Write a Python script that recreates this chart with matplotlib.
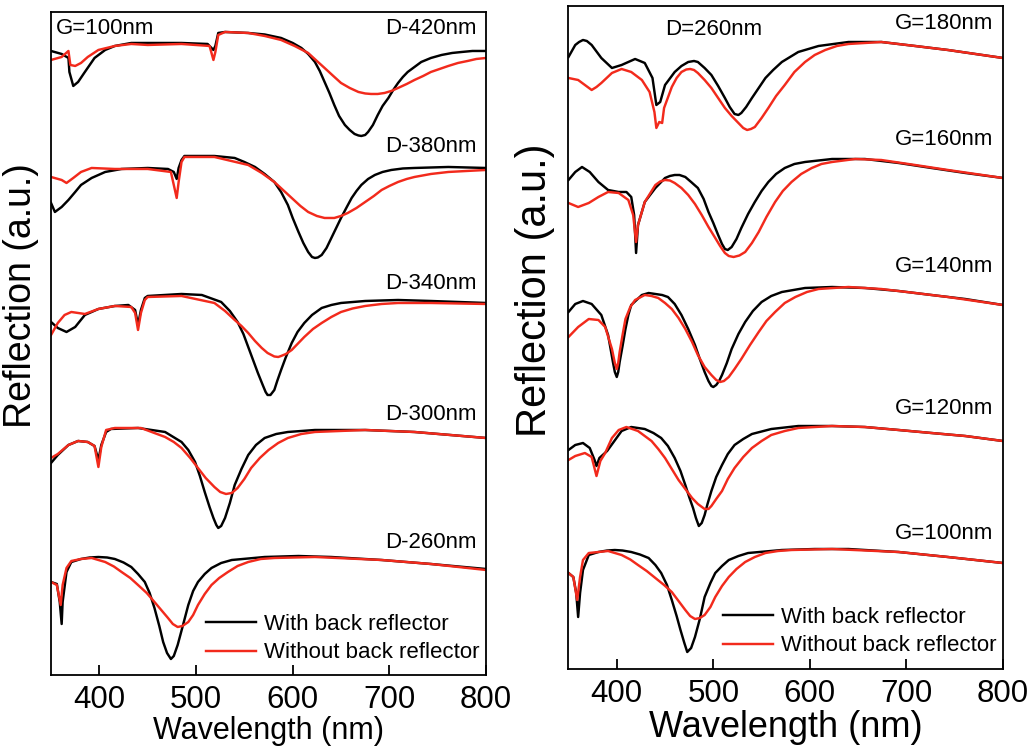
import matplotlib
matplotlib.use('Agg')
import matplotlib.pyplot as plt

plt.rcParams['font.family'] = ['Liberation Sans', 'DejaVu Sans']

BLACK = '#000000'
RED = '#f22a1c'

# (wavelength nm, reflection a.u. incl. stacking offset)
# ---- left panel: G=100nm, diameter series ----
d420_with = [(350, 624), (361, 621), (368, 617), (369, 603), (373, 589), (378, 593), (385, 603), (395, 617),
             (406, 625), (416, 629), (433, 632), (450, 632), (485, 632), (512, 631), (518, 625), (520, 629),
             (523, 642), (530, 643), (554, 642), (571, 640.5), (588, 637), (600, 632), (609, 627), (616, 621),
             (623, 613), (628, 604), (633, 593), (638, 582), (643, 570), (648, 559), (654, 550), (659, 545),
             (664, 541), (668, 539.5), (671, 539), (675, 540), (678, 543), (683, 550), (688, 560), (693, 569),
             (699, 577), (704, 585), (709, 592), (714, 598), (719, 603), (726, 608), (733, 613), (743, 617),
             (754, 620), (765, 622), (775, 623), (786, 624), (800, 624)]
d420_without = [(350, 615), (361, 618), (368, 624), (370, 610), (375, 609), (381, 612), (388, 618), (399, 625),
                (416, 629), (433, 631), (450, 630), (485, 631), (514, 629), (518, 615), (520, 623), (523, 640),
                (530, 643), (554, 642), (571, 639), (588, 635), (602, 629), (616, 622), (625, 614), (633, 607),
                (642, 599), (650, 592), (659, 587), (668, 583), (675, 581.5), (681, 581), (688, 581), (695, 582),
                (702, 584), (709, 587), (718, 591), (726, 595), (735, 599), (743, 603), (752, 606), (761, 609),
                (771, 612), (781, 614), (790, 616), (800, 617)]

d380_with = [(350, 472), (354, 463), (361, 468), (368, 475), (375, 483), (381, 490), (392, 497), (406, 503),
             (423, 506), (450, 507), (471, 506), (477, 503), (480, 496), (482, 507), (485, 515), (488, 519),
             (519, 519), (540, 517), (550, 513), (561, 508), (571, 501), (581, 493), (588, 483), (595, 470),
             (600, 457), (606, 443), (611, 432), (616, 423), (620, 418), (623, 417), (626, 417.5), (630, 420),
             (635, 427), (640, 437), (645, 447), (650, 457), (656, 468), (661, 477), (666, 484), (671, 490),
             (678, 496), (685, 500), (693, 503), (702, 505), (714, 506.5), (726, 507), (761, 508), (800, 507)]
d380_without = [(350, 498), (361, 495), (366, 492), (373, 497), (381, 503), (392, 507), (416, 506), (450, 506),
                (474, 503), (480, 477), (482, 493), (485, 513), (488, 518), (519, 518), (554, 510), (568, 502),
                (581, 493), (590, 485), (599, 477), (608, 469), (616, 463), (625, 459), (633, 457), (643, 457),
                (650, 459), (657, 462), (666, 467), (675, 473), (684, 479), (692, 485), (700, 489), (709, 493),
                (718, 496), (726, 498), (743, 501), (761, 503), (780, 504), (800, 505)]

d340_with = [(350, 353), (357, 347), (366, 343), (375, 348), (385, 360), (399, 366), (416, 369), (430, 370),
             (437, 365), (440, 350), (443, 365), (447, 377), (450, 379), (485, 381), (506, 380), (526, 373),
             (535, 364), (543, 353), (549, 341), (554, 328), (559, 315), (564, 302), (569, 290), (572, 283),
             (574, 280), (577, 280), (581, 285), (584, 294), (588, 305), (593, 318), (599, 332), (605, 343),
             (612, 352), (620, 360), (630, 367), (640, 370), (650, 372), (675, 374), (709, 375), (743, 374),
             (800, 372)]
d340_without = [(350, 340), (357, 352), (364, 360), (371, 363), (378, 362), (385, 361), (399, 366), (416, 369),
                (433, 368), (437, 362), (440, 345), (443, 362), (447, 375), (450, 378), (485, 379), (519, 372),
                (530, 364), (540, 355), (547, 349), (554, 342), (561, 334), (568, 327), (574, 322), (581, 318.5),
                (585, 318), (588, 319), (593, 321), (599, 325), (605, 331), (612, 338), (621, 346), (630, 352),
                (640, 358), (650, 363), (662, 366.5), (675, 369), (692, 371), (709, 372), (743, 372), (800, 371)]

d300_with = [(350, 212), (357, 220), (368, 230), (378, 234), (388, 233), (395, 229), (399, 215), (402, 230),
             (407, 243), (412, 246), (440, 247), (468, 243), (485, 233), (492, 225), (499, 213), (504, 199),
             (509, 183), (514, 168), (518, 157), (521, 150), (523, 147), (526, 149), (530, 157), (535, 172),
             (540, 190), (547, 206), (554, 220), (562, 230), (571, 237), (583, 241), (595, 243), (623, 245),
             (675, 245), (726, 243), (800, 237)]
d300_without = [(350, 217), (357, 221), (368, 230), (378, 234), (388, 233), (395, 229), (399, 208), (402, 228),
                (407, 245), (416, 247), (443, 247), (468, 238), (477, 233), (485, 227), (494, 217), (502, 207),
                (510, 197), (519, 188), (525, 183), (531, 181), (537, 182), (543, 187), (550, 196), (557, 207),
                (566, 217), (575, 225), (585, 232), (595, 237), (609, 241), (623, 243), (675, 245), (726, 243),
                (800, 237)]

d260_with = [(350, 93), (356, 91), (359, 73), (361, 51), (362, 73), (366, 103), (371, 113), (381, 116),
             (390, 117.5), (399, 118), (408, 117.5), (416, 116), (425, 112.5), (433, 108), (440, 101), (447, 93),
             (452, 82), (457, 67), (462, 49), (466, 33), (470, 22), (474, 16), (477, 19), (481, 30), (486, 48),
             (492, 70), (497, 84), (502, 93), (509, 101), (516, 107), (526, 112), (537, 115), (571, 118),
             (606, 119), (640, 118), (692, 115), (743, 111), (800, 106)]
d260_without = [(350, 93), (356, 90), (360, 70), (362, 90), (366, 107), (371, 114), (381, 116), (392, 117),
                (406, 113), (415, 108.5), (423, 103), (432, 97), (440, 90), (449, 82), (457, 73), (464, 65),
                (471, 57), (476, 51), (481, 48), (486, 49), (492, 53), (497, 60), (502, 70), (509, 81), (516, 90),
                (524, 97), (533, 103), (543, 109), (554, 113), (567, 116), (581, 117), (623, 118), (692, 115),
                (743, 111), (800, 105)]

# ---- right panel: D=260nm, gap series ----
g180_with = [(350, 612), (357, 624), (361, 627), (365, 629), (369, 628), (374, 624), (384, 611), (395, 601),
             (405, 604), (419, 610), (429, 606), (437, 591), (441, 564), (445, 567), (450, 584), (460, 597),
             (467, 603), (474, 607), (480, 608), (484, 607), (491, 601), (498, 594), (505, 583), (512, 571),
             (517, 562), (522, 555), (526, 554), (529, 556), (534, 562), (540, 571), (547, 581), (554, 591),
             (562, 599), (571, 607), (588, 617), (609, 623), (640, 627), (674, 627), (709, 623), (743, 619),
             (800, 611)]
g180_without = [(350, 591), (360, 589), (367, 584), (374, 579), (379, 582), (384, 586), (395, 596), (405, 600),
                (415, 597), (426, 589), (434, 577), (439, 557), (441, 541), (444, 547), (447, 546), (449, 561),
                (457, 582), (462, 591), (467, 597), (472, 599.5), (476, 600), (480, 599), (484, 596), (491, 589),
                (498, 581), (505, 571), (512, 561), (519, 553), (526, 546), (531, 541), (535, 539), (539, 540),
                (543, 542), (550, 551), (557, 561), (565, 573), (574, 584), (584, 597), (595, 607), (605, 614),
                (616, 619), (628, 623), (640, 625), (674, 627), (709, 623), (743, 619), (800, 611)]

g160_with = [(350, 489), (357, 497), (364, 502), (372, 497), (381, 487), (391, 479), (402, 477), (410, 477),
             (415, 472), (418, 454), (420, 416), (422, 444), (429, 467), (440, 481), (450, 491), (455, 493),
             (460, 494), (465, 494), (471, 492), (477, 487), (484, 481), (490, 470), (495, 457), (500, 446),
             (505, 434), (509, 425), (512, 420), (515, 419), (519, 422), (524, 430), (529, 441), (536, 455),
             (543, 467), (550, 478), (557, 487), (565, 495), (574, 501), (584, 505), (595, 507), (623, 510),
             (657, 510), (692, 506), (726, 501), (761, 496), (800, 491)]
g160_without = [(350, 466), (360, 462), (371, 466), (381, 472), (391, 477), (402, 476), (412, 469), (417, 454),
                (420, 427), (422, 444), (429, 467), (440, 484), (445, 487.5), (450, 489), (455, 488.5), (460, 486),
                (467, 481), (474, 474), (481, 465), (488, 454), (495, 442), (502, 431), (507, 423), (512, 416),
                (516, 413), (521, 412), (527, 413.5), (533, 417), (540, 426), (547, 437), (555, 452), (564, 467),
                (572, 478), (581, 487), (591, 495), (602, 501), (612, 505), (623, 507), (647, 510), (674, 509),
                (709, 504), (743, 499), (800, 491)]

g140_with = [(350, 357), (357, 365), (365, 368), (374, 365), (384, 354), (391, 334), (394, 318), (396, 307),
             (398, 297), (400, 292), (401.5, 297), (403, 307), (406, 323), (409, 340), (412, 354), (415, 364),
             (426, 374), (433, 376), (440, 375), (447, 374), (453, 372), (460, 365), (467, 354), (474, 340),
             (481, 324), (486, 310), (491, 297), (495, 288), (498, 283), (500, 282), (503, 284), (506, 288),
             (509, 294), (514, 306), (519, 320), (526, 335), (533, 347), (541, 358), (550, 367), (560, 373),
             (571, 377), (595, 381), (623, 382), (657, 381), (692, 378), (726, 374), (761, 370), (800, 364)]
g140_without = [(350, 332), (360, 342), (371, 350), (381, 349), (388, 342), (395, 320), (398, 306), (400, 300),
                (401.5, 306), (403, 317), (406, 334), (409, 350), (414, 362), (419, 369), (429, 374), (436, 373),
                (443, 371), (450, 366), (457, 360), (464, 351), (471, 340), (478, 327), (484, 314), (491, 302),
                (498, 294), (503, 289), (507, 287), (511, 288), (516, 292), (522, 300), (529, 310), (538, 324),
                (547, 337), (555, 348), (564, 357), (574, 366), (585, 372), (597, 377), (609, 380), (640, 382),
                (674, 380), (709, 376), (743, 372), (800, 364)]

g120_with = [(350, 219), (357, 224), (365, 226), (372, 221), (377, 209), (379, 203), (382, 211), (390, 218),
             (396, 226), (405, 238), (415, 242), (429, 240), (438, 236), (446, 231), (453, 223), (460, 211),
             (466, 198), (471, 184), (475, 172), (479, 161), (482, 151), (485, 143), (488, 146), (491, 154),
             (494, 165), (498, 178), (503, 192), (509, 204), (515, 215), (522, 224), (531, 230), (540, 235),
             (560, 240), (588, 243), (623, 243), (657, 242), (692, 239), (726, 236), (761, 233), (800, 228)]
g120_without = [(350, 209), (357, 213), (367, 216), (374, 212), (379, 193), (383, 208), (388, 216), (395, 231),
                (402, 239), (410, 242), (422, 238), (436, 228), (443, 220), (450, 211), (457, 200), (464, 189),
                (471, 180), (478, 171), (484, 165), (491, 160), (495, 160), (498, 163), (503, 170), (509, 178),
                (515, 190), (522, 201), (531, 212), (540, 221), (550, 228), (560, 234), (574, 238), (588, 241),
                (623, 243), (657, 242), (692, 239), (726, 236), (761, 233), (800, 228)]

g100_with = [(350, 96), (355, 92), (358, 76), (360, 52), (362, 76), (365, 99), (371, 114), (381, 117),
             (390, 118.5), (398, 119), (406, 118.5), (415, 117), (424, 114.5), (433, 111), (440, 104), (446, 96),
             (452, 84), (457, 69), (462, 53), (466, 39), (470, 26), (473, 17), (477, 21), (481, 32), (486, 50),
             (491, 72), (497, 86), (502, 96), (509, 103), (516, 109), (526, 113), (536, 116), (571, 119),
             (605, 120), (640, 120), (692, 117), (743, 112), (800, 106)]
g100_without = [(350, 96), (355, 92), (359, 69), (362, 92), (365, 109), (371, 116), (381, 117), (391, 118),
                (405, 114), (414, 109.5), (422, 104), (431, 98), (440, 91), (449, 84), (457, 77), (464, 68),
                (471, 59), (476, 53), (481, 50), (486, 51), (491, 54), (497, 62), (502, 72), (509, 83), (516, 92),
                (524, 100), (533, 107), (543, 112), (554, 116), (567, 118), (581, 119), (623, 120), (692, 117),
                (743, 112), (800, 106)]

left_labels = ['D-420nm', 'D-380nm', 'D-340nm', 'D-300nm', 'D-260nm']
left_label_y = [646, 528, 391, 260, 132]
right_labels = ['G=180nm', 'G=160nm', 'G=140nm', 'G=120nm', 'G=100nm']
right_label_y = [645, 529, 402, 261, 136]

left_curves = [(d420_with, d420_without), (d380_with, d380_without), (d340_with, d340_without),
               (d300_with, d300_without), (d260_with, d260_without)]
right_curves = [(g180_with, g180_without), (g160_with, g160_without), (g140_with, g140_without),
                (g120_with, g120_without), (g100_with, g100_without)]

fig = plt.figure(figsize=(10.31, 7.48), dpi=100)
ax1 = fig.add_axes([0.0495, 0.0976, 0.4219, 0.8864])
ax2 = fig.add_axes([0.5514, 0.1056, 0.4214, 0.8864])


def draw_panel(ax, curves, labels, label_y, xlabel_size, legend_y):
    for i, (with_br, without_br) in enumerate(curves):
        x, y = zip(*with_br)
        ax.plot(x, y, color=BLACK, lw=1.75, solid_joinstyle='round',
                label='With back reflector' if i == 0 else None)
        x, y = zip(*without_br)
        ax.plot(x, y, color=RED, lw=1.75, solid_joinstyle='round',
                label='Without back reflector' if i == 0 else None)
    for lab, y in zip(labels, label_y):
        ax.text(790, y, lab, ha='right', va='center', fontsize=16)
    ax.set_xlim(350, 800)
    ax.set_ylim(0, 663)
    ax.set_xticks([400, 500, 600, 700, 800])
    ax.set_yticks([])
    ax.tick_params(axis='x', direction='in', length=7, width=1.3, labelsize=22.5, pad=7, top=False)
    for s in ax.spines.values():
        s.set_linewidth(1.3)
    ax.set_xlabel('Wavelength (nm)', fontsize=xlabel_size, labelpad=1)
    ax.legend(loc='upper left', bbox_to_anchor=(0.356, legend_y), frameon=False, fontsize=16,
              handlelength=2.25, handletextpad=0.35, labelspacing=0.33, borderpad=0, borderaxespad=0)


draw_panel(ax1, left_curves, left_labels, left_label_y, 22, 0.092)
draw_panel(ax2, right_curves, right_labels, right_label_y, 26, 0.0935)

ax1.text(355, 646, 'G=100nm', ha='left', va='center', fontsize=16)
ax2.text(500, 639, 'D=260nm', ha='center', va='center', fontsize=16)

ax1.set_ylabel('Reflection (a.u.)', fontsize=27)
ax1.yaxis.set_label_coords(-0.028, 0.573)
ax2.set_ylabel('Reflection (a.u.)', fontsize=30)
ax2.yaxis.set_label_coords(-0.031, 0.572)

fig.savefig('out.png', dpi=100)
